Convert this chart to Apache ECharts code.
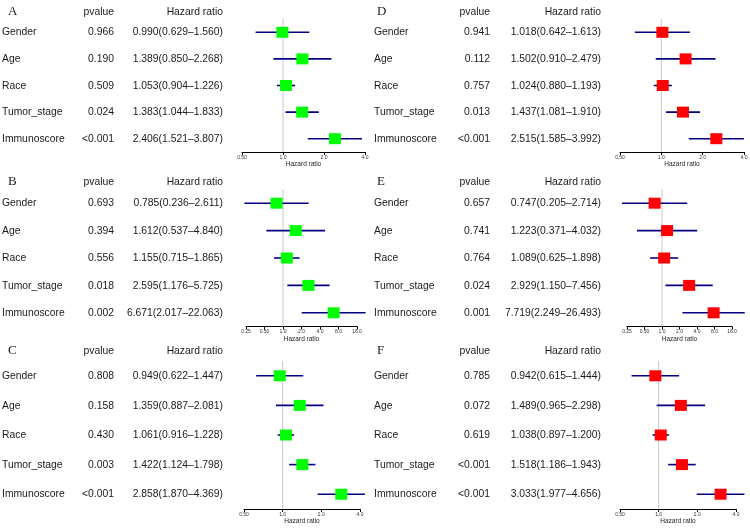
<!DOCTYPE html>
<html><head><meta charset="utf-8">
<script src="https://cdn.jsdelivr.net/npm/echarts@6/dist/echarts.min.js"></script>
<style>html,body{margin:0;padding:0;background:#fff}#c{width:750px;height:529px}</style>
</head><body><div id="c"></div>
<script>
// ---------------- data ----------------
const variables = ["Gender", "Age", "Race", "Tumor_stage", "Immunoscore"];
const panelLetters = ["A", "B", "C", "D", "E", "F"];

const pA = ["0.966", "0.190", "0.509", "0.024", "<0.001"];
const hrA = [0.990, 1.389, 1.053, 1.383, 2.406];
const loA = [0.629, 0.850, 0.904, 1.044, 1.521];
const hiA = [1.560, 2.268, 1.226, 1.833, 3.807];

const pB = ["0.693", "0.394", "0.556", "0.018", "0.002"];
const hrB = [0.785, 1.612, 1.155, 2.595, 6.671];
const loB = [0.236, 0.537, 0.715, 1.176, 2.017];
const hiB = [2.611, 4.840, 1.865, 5.725, 22.063];

const pC = ["0.808", "0.158", "0.430", "0.003", "<0.001"];
const hrC = [0.949, 1.359, 1.061, 1.422, 2.858];
const loC = [0.622, 0.887, 0.916, 1.124, 1.870];
const hiC = [1.447, 2.081, 1.228, 1.798, 4.369];

const pD = ["0.941", "0.112", "0.757", "0.013", "<0.001"];
const hrD = [1.018, 1.502, 1.024, 1.437, 2.515];
const loD = [0.642, 0.910, 0.880, 1.081, 1.585];
const hiD = [1.613, 2.479, 1.193, 1.910, 3.992];

const pE = ["0.657", "0.741", "0.764", "0.024", "0.001"];
const hrE = [0.747, 1.223, 1.089, 2.929, 7.719];
const loE = [0.205, 0.371, 0.625, 1.150, 2.249];
const hiE = [2.714, 4.032, 1.898, 7.456, 26.493];

const pF = ["0.785", "0.072", "0.619", "<0.001", "<0.001"];
const hrF = [0.942, 1.489, 1.038, 1.518, 3.033];
const loF = [0.615, 0.965, 0.897, 1.186, 1.977];
const hiF = [1.444, 2.298, 1.200, 1.943, 4.656];

const ticksNarrow = ["0.50", "1.0", "2.0", "4.0"];   // 0.5 .. 4
const ticksWide = ["0.25", "0.50", "1.0", "2.0", "4.0", "8.0", "16.0"]; // 0.25 .. 16
const narrowMin = 0.5, narrowMax = 4, wideMin = 0.25, wideMax = 16;

// ---------------- layout / style ----------------
const GREEN = "#00ff00", RED = "#ff0000", CI = "#000080";
const rowLayouts = [
  { top: 19, height: 133, headerY: 12 },
  { top: 189.5, height: 137, headerY: 182 },
  { top: 361, height: 148, headerY: 351 }
];
const colText = [
  { letterX: 8, labelX: 2, pRight: 114, hrRight: 223 },
  { letterX: 377, labelX: 374, pRight: 490, hrRight: 601 }
];
const panels = [
  { p: pA, hr: hrA, lo: loA, hi: hiA, ticks: ticksNarrow, min: narrowMin, max: narrowMax, color: GREEN, col: 0, row: 0, left: 242, width: 123 },
  { p: pB, hr: hrB, lo: loB, hi: hiB, ticks: ticksWide, min: wideMin, max: wideMax, color: GREEN, col: 0, row: 1, left: 246, width: 111 },
  { p: pC, hr: hrC, lo: loC, hi: hiC, ticks: ticksNarrow, min: narrowMin, max: narrowMax, color: GREEN, col: 0, row: 2, left: 244, width: 116 },
  { p: pD, hr: hrD, lo: loD, hi: hiD, ticks: ticksNarrow, min: narrowMin, max: narrowMax, color: RED, col: 1, row: 0, left: 620, width: 124 },
  { p: pE, hr: hrE, lo: loE, hi: hiE, ticks: ticksWide, min: wideMin, max: wideMax, color: RED, col: 1, row: 1, left: 627, width: 105 },
  { p: pF, hr: hrF, lo: loF, hi: hiF, ticks: ticksNarrow, min: narrowMin, max: narrowMax, color: RED, col: 1, row: 2, left: 620, width: 116 }
];

const SANS = '"Liberation Sans", Arial, Helvetica, sans-serif';
const SERIF = '"Liberation Serif", "Times New Roman", serif';
const TXT = "#1a1a1a";
const TXT_FONT = "11.5px " + SANS;
const TXT_SX = 0.9;

function fmtHR(h, l, u) {
  return h.toFixed(3) + "(" + l.toFixed(3) + "\u2013" + u.toFixed(3) + ")";
}
function txt(s, x, y, align) {
  return { type: "text", z2: 3, x: x, y: y, scaleX: TXT_SX,
    style: { text: s, x: 0, y: 0, align: align, verticalAlign: "middle", font: TXT_FONT, fill: TXT } };
}

function makeRender(panel) {
  const ct = colText[panel.col];
  return function (params, api) {
    const idx = api.value(3);
    const c = api.coord([api.value(0), idx]);
    const xl = api.coord([api.value(1), idx])[0];
    const xh = api.coord([api.value(2), idx])[0];
    const y = c[1];
    const cs = params.coordSys;
    const children = [];
    if (params.dataIndex === 0) {
      const xr = api.coord([1, idx])[0];
      children.push({ type: "line", z2: 0, shape: { x1: xr, y1: cs.y, x2: xr, y2: cs.y + cs.height },
        style: { stroke: "#c8c8c8", lineWidth: 1 } });
    }
    children.push({ type: "line", z2: 1, shape: { x1: xl, y1: y, x2: xh, y2: y },
      style: { stroke: CI, lineWidth: 1.6 } });
    children.push({ type: "rect", z2: 2, shape: { x: c[0] - 6, y: y - 5.5, width: 12, height: 11 },
      style: { fill: panel.color } });
    children.push(txt(variables[idx], ct.labelX, y, "left"));
    children.push(txt(panel.p[idx], ct.pRight, y, "right"));
    children.push(txt(fmtHR(panel.hr[idx], panel.lo[idx], panel.hi[idx]), ct.hrRight, y, "right"));
    return { type: "group", children: children };
  };
}

const grids = [], xAxes = [], yAxes = [], series = [], graphics = [];
panels.forEach(function (pn, i) {
  const rl = rowLayouts[pn.row];
  const ct = colText[pn.col];
  grids.push({ left: pn.left, width: pn.width, top: rl.top, height: rl.height, outerBoundsMode: "none", containLabel: false });
  xAxes.push({
    gridIndex: i, type: "log", logBase: 2, min: pn.min, max: pn.max, splitNumber: pn.ticks.length - 1,
    axisLine: { show: true, lineStyle: { color: "#000", width: 1 } },
    axisTick: { show: true, length: 3, lineStyle: { color: "#000", width: 1 } },
    splitLine: { show: false },
    axisLabel: {
      fontSize: 5, color: "#333", margin: 3, fontFamily: SANS, showMinLabel: true, showMaxLabel: true, hideOverlap: false,
      formatter: (function (ticks, mn) {
        return function (v) { const k = Math.round(Math.log2(v / mn)); return ticks[k] !== undefined ? ticks[k] : ""; };
      })(pn.ticks, pn.min)
    },
    name: "Hazard ratio", nameLocation: "middle", nameGap: 8.5,
    nameTextStyle: { fontSize: 6.5, color: "#222", fontFamily: SANS }
  });
  yAxes.push({ gridIndex: i, type: "category", data: variables.map(function (_, k) { return k; }), inverse: true, show: false, boundaryGap: true });
  const data = pn.hr.map(function (h, k) { return [h, pn.lo[k], pn.hi[k], k]; });
  series.push({
    type: "custom", xAxisIndex: i, yAxisIndex: i, clip: false, silent: true, animation: false,
    encode: { x: [0, 1, 2], y: 3 }, renderItem: makeRender(pn), data: data
  });
  graphics.push({ type: "text", left: ct.letterX, top: rl.headerY - 7, style: { text: panelLetters[i], font: "13px " + SERIF, fill: TXT } });
  graphics.push({ type: "text", x: ct.pRight, y: rl.headerY, scaleX: TXT_SX, style: { text: "pvalue", x: 0, y: 0, align: "right", verticalAlign: "middle", font: TXT_FONT, fill: TXT } });
  graphics.push({ type: "text", x: ct.hrRight, y: rl.headerY, scaleX: TXT_SX, style: { text: "Hazard ratio", x: 0, y: 0, align: "right", verticalAlign: "middle", font: TXT_FONT, fill: TXT } });
});

const chart = echarts.init(document.getElementById("c"), null, { renderer: "canvas" });
chart.setOption({
  backgroundColor: "#fff",
  animation: false,
  grid: grids, xAxis: xAxes, yAxis: yAxes, series: series, graphic: graphics
});
</script></body></html>
